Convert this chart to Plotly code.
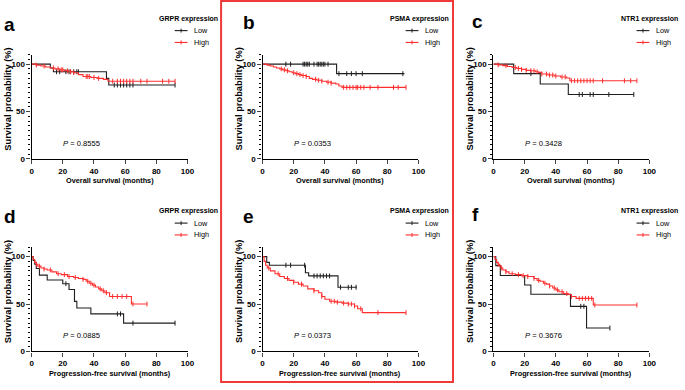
import plotly.graph_objects as go

# ---------------- data ----------------
months_ticks = [0, 20, 40, 60, 80, 100]
surv_ticks = [0, 50, 100]
panel_letters = ["a", "b", "c", "d", "e", "f"]
markers = ["GRPR", "PSMA", "NTR1", "GRPR", "PSMA", "NTR1"]
p_values = ["0.8555", "0.0353", "0.3428", "0.0885", "0.0373", "0.3676"]
x_titles = ["Overall survival (months)"] * 3 + ["Progression-free survival (months)"] * 3
group_names = ["Low", "High"]

# a: GRPR, overall survival
a_low_t = [0, 12, 14, 48, 49.5, 92]
a_low_s = [100, 96, 92, 85, 78, 78]
a_low_c = [16, 18, 22, 24, 25, 27, 29, 30, 53, 55, 57, 59, 61, 63, 65, 92]
a_high_t = [0, 3, 6, 9, 12, 15, 18, 21, 24, 27, 30, 33, 38, 42, 46, 49, 92]
a_high_s = [100, 99, 98, 97, 96, 95, 94, 93, 92, 91, 89, 87, 86, 85, 84, 82, 82]
a_high_c = [3, 8, 14, 17, 19, 20, 23, 25, 27, 35, 36, 37, 40, 43, 52, 55, 57, 59, 61, 63, 65, 70, 74, 84, 88, 92]

# b: PSMA, overall survival
b_low_t = [0, 47.5, 91]
b_low_s = [100, 90, 90]
b_low_c = [15, 18, 26, 27, 28, 29, 30, 33, 35, 36, 37, 38, 39, 40, 42, 49, 54, 57, 60, 64, 90]
b_high_t = [0, 3, 5, 7, 9, 11, 13, 15, 17, 19, 21, 23, 25, 28, 30, 32, 35, 38, 41, 44, 47, 49, 51, 92]
b_high_s = [100, 99, 98, 97, 96, 95, 94, 93, 92, 91, 90, 89, 88, 87, 85, 84, 83, 82, 81, 80, 79, 77, 75.5, 75.5]
b_high_c = [12, 14, 16, 20, 22, 24, 26, 28, 34, 36, 38, 42, 44, 52, 54, 56, 58, 60, 61, 63, 65, 69, 74, 84, 87, 92]

# c: NTR1, overall survival
c_low_t = [0, 13, 30, 48, 90]
c_low_s = [100, 90, 79, 68, 68]
c_low_c = [24, 55, 57, 62, 64, 74, 90]
c_high_t = [0, 3, 6, 9, 12, 15, 18, 21, 24, 27, 29, 31, 35, 39, 43, 47, 49, 92]
c_high_s = [100, 99.3, 98.5, 97.5, 96.5, 95.5, 94.5, 93.5, 93, 92, 91.3, 89.6, 88.5, 87.5, 86.5, 85.4, 82.5, 82.5]
c_high_c = [3, 8, 14, 16, 18, 21, 24, 26, 28, 31, 34, 36, 38, 40, 44, 46, 50, 52, 54, 56, 58, 60, 62, 64, 70, 84, 88, 92]

# d: GRPR, progression-free survival
d_low_t = [0, 1, 2, 3, 5, 10, 20, 24, 27.5, 29, 38, 59, 92]
d_low_s = [100, 96, 92, 87.5, 80.5, 75.3, 71.5, 65.3, 52.8, 45.8, 39.6, 29.9, 29.9]
d_low_c = [22, 55, 57, 65, 92]
d_high_t = [0, 1, 2, 3, 4, 6, 8, 10, 13, 16, 19, 23, 27, 30, 33, 35, 37, 39, 41, 43, 45, 47, 50, 64, 74]
d_high_s = [100, 97, 94, 92, 90, 88, 87, 86, 84, 82, 81, 79, 78, 77, 76, 74, 72, 70, 68, 66, 64, 62, 58, 50, 50]
d_high_c = [3, 5, 8, 12, 17, 21, 24, 28, 33, 36, 38, 40, 44, 46, 48, 52, 55, 58, 61, 65, 74]

# e: PSMA, progression-free survival
e_low_t = [0, 2.7, 4.4, 27.5, 29.6, 48.4, 60.4]
e_low_s = [100, 94, 91, 83, 79.7, 67.7, 67.7]
e_low_c = [15, 18, 27, 33, 35, 37, 39, 41, 43, 50, 55, 57, 60]
e_high_t = [0, 1, 2, 3, 5, 8, 11, 14, 17, 20, 23, 26, 29, 33, 36, 38, 40, 43, 47, 51, 55, 59, 61, 64, 92]
e_high_s = [100, 95, 91, 88, 85, 82, 79, 77, 75, 73, 71, 69, 66, 64, 62, 58, 55, 53, 52, 51, 50, 48, 45, 41, 41]
e_high_c = [4, 10, 16, 20, 25, 33, 38, 44, 46, 48, 52, 55, 57, 59, 63, 74, 92]

# f: NTR1, progression-free survival
f_low_t = [0, 1.5, 4.4, 20, 24, 49.4, 59.7, 74.7]
f_low_s = [100, 90.5, 80.2, 70.1, 60.4, 47.6, 24.7, 24.7]
f_low_c = [56, 58, 74.7]
f_high_t = [0, 1, 2, 3, 4, 5, 6, 8, 10, 14, 18, 22, 26, 28, 30, 32, 34, 36, 38, 40, 42, 45, 48, 50, 53, 64, 92]
f_high_s = [100, 97, 94, 92, 90, 88, 86, 84, 82, 81, 80, 79, 77, 75, 74, 72, 71, 69, 67, 65, 63, 61, 60, 58, 56, 49, 49]
f_high_c = [3, 5, 8, 12, 16, 19, 22, 26, 29, 33, 36, 39, 41, 44, 47, 50, 55, 57, 59, 61, 63, 65, 92]

curves = [
    ((a_low_t, a_low_s, a_low_c), (a_high_t, a_high_s, a_high_c)),
    ((b_low_t, b_low_s, b_low_c), (b_high_t, b_high_s, b_high_c)),
    ((c_low_t, c_low_s, c_low_c), (c_high_t, c_high_s, c_high_c)),
    ((d_low_t, d_low_s, d_low_c), (d_high_t, d_high_s, d_high_c)),
    ((e_low_t, e_low_s, e_low_c), (e_high_t, e_high_s, e_high_c)),
    ((f_low_t, f_low_s, f_low_c), (f_high_t, f_high_s, f_high_c)),
]

# ---------------- style / layout ----------------
W, H = 685, 390
FONT = "Liberation Sans, Arial, sans-serif"
COLORS = ["#1e1e1e", "#ff2f2f"]
COL_X0 = [30, 264, 498]        # pixel x of y-axis
ROW_Y0 = [161, 356]            # pixel y of x-axis (value 0)
PLOT_W = 158                   # px for 0..100 months
PLOT_H = 105.6                 # px for 0..110 %
LETTER_POS = [(8, 24.5), (250, 22.5), (482, 21.5), (8, 219.5), (250, 219.5), (480, 217.5)]


def fx(px):
    return px / W


def fy(py):
    return 1 - py / H


def step_value(ts, ss, t):
    v = ss[0]
    for ti, si in zip(ts, ss):
        if ti <= t:
            v = si
    return v


fig = go.Figure()
annotations = []
shapes = []
layout_axes = {}

for i in range(6):
    col, row = i % 3, i // 3
    x0 = COL_X0[col]
    y0 = ROW_Y0[row]
    n = "" if i == 0 else str(i + 1)
    xa, ya = "x" + n, "y" + n

    for g, (ts, ss, cs) in enumerate(curves[i]):
        fig.add_trace(go.Scatter(
            x=ts, y=ss, mode="lines", xaxis=xa, yaxis=ya,
            line=dict(shape="hv", color=COLORS[g], width=1.1),
            showlegend=False, hoverinfo="skip", cliponaxis=False))
        fig.add_trace(go.Scatter(
            x=cs, y=[step_value(ts, ss, t) for t in cs], mode="markers",
            xaxis=xa, yaxis=ya,
            marker=dict(symbol="line-ns", size=3.5, color=COLORS[g],
                        line=dict(width=1, color=COLORS[g])),
            showlegend=False, hoverinfo="skip", cliponaxis=False))

    layout_axes["xaxis" + n] = dict(
        domain=[fx(x0), fx(x0 + PLOT_W)], anchor=ya, range=[0, 100],
        tickvals=months_ticks, ticks="outside", ticklen=4, tickwidth=1.3,
        showline=True, linecolor="black", linewidth=1.3, showgrid=False,
        zeroline=False, tickfont=dict(family=FONT, size=8, color="black", weight="bold"),
        fixedrange=True)
    layout_axes["yaxis" + n] = dict(
        domain=[fy(y0), fy(y0 - PLOT_H)], anchor=xa, range=[0, 110],
        tickvals=surv_ticks, ticks="outside", ticklen=4, tickwidth=1.3,
        minor=dict(dtick=5, ticks="outside", ticklen=2, tickwidth=1, tickcolor="black"),
        showline=True, linecolor="black", linewidth=1.3, showgrid=False,
        zeroline=False, tickfont=dict(family=FONT, size=8, color="black", weight="bold"),
        fixedrange=True)

    # panel letter
    lx, ly = LETTER_POS[i]
    annotations.append(dict(text="<b>%s</b>" % panel_letters[i], x=fx(lx), y=fy(ly),
                            xref="paper", yref="paper", showarrow=False,
                            xanchor="center", yanchor="middle",
                            font=dict(family=FONT, size=19, color="black")))
    # axis titles
    annotations.append(dict(text="<b>%s</b>" % x_titles[i], x=fx(x0 + 79), y=fy(y0 + 22),
                            xref="paper", yref="paper", showarrow=False,
                            xanchor="center", yanchor="middle",
                            font=dict(family=FONT, size=7.3, color="black")))
    annotations.append(dict(text="<b>Survival probability (%)</b>", x=fx(x0 - 24), y=fy(y0 - 61),
                            xref="paper", yref="paper", showarrow=False, textangle=-90,
                            xanchor="center", yanchor="middle",
                            font=dict(family=FONT, size=9.3, color="black")))
    # p value
    annotations.append(dict(text="<i>P</i> = %s" % p_values[i], x=fx(x0 + 30), y=fy(y0 - 16),
                            xref="paper", yref="paper", showarrow=False,
                            xanchor="left", yanchor="middle",
                            font=dict(family=FONT, size=7.6, color="black")))
    # legend
    annotations.append(dict(text="<b>%s expression</b>" % markers[i], x=fx(x0 + 127), y=fy(y0 - 142),
                            xref="paper", yref="paper", showarrow=False,
                            xanchor="left", yanchor="middle",
                            font=dict(family=FONT, size=7, color="black")))
    for g in range(2):
        yy = y0 - 130 + 12 * g
        annotations.append(dict(text=group_names[g], x=fx(x0 + 163), y=fy(yy),
                                xref="paper", yref="paper", showarrow=False,
                                xanchor="left", yanchor="middle",
                                font=dict(family=FONT, size=7.3, color="black")))
        shapes.append(dict(type="line", xref="paper", yref="paper",
                           x0=fx(x0 + 145), x1=fx(x0 + 158), y0=fy(yy), y1=fy(yy),
                           line=dict(color=COLORS[g], width=1.1)))
        shapes.append(dict(type="line", xref="paper", yref="paper",
                           x0=fx(x0 + 151.5), x1=fx(x0 + 151.5), y0=fy(yy - 2), y1=fy(yy + 2),
                           line=dict(color=COLORS[g], width=1)))

# red highlight box around panels b and e
shapes.append(dict(type="rect", xref="paper", yref="paper",
                   x0=fx(222), x1=fx(457), y0=fy(387), y1=fy(1),
                   line=dict(color="#f03a3a", width=2)))

fig.update_layout(
    width=W, height=H, margin=dict(l=0, r=0, t=0, b=0),
    paper_bgcolor="white", plot_bgcolor="white",
    showlegend=False, annotations=annotations, shapes=shapes,
    **layout_axes)

fig.write_html("out.html", config={"displayModeBar": False},
               post_script="document.body.style.margin='0';")
